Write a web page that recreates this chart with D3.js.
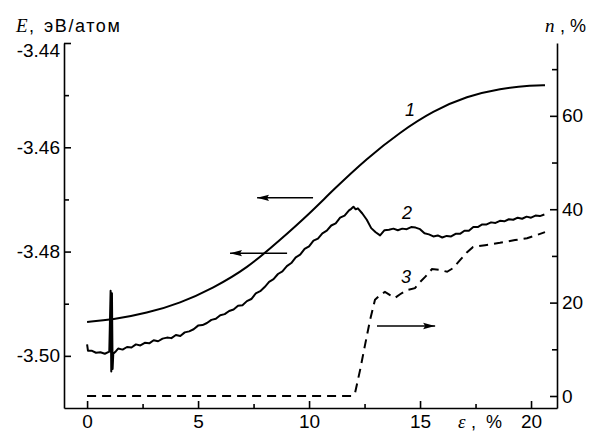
<!DOCTYPE html>
<html>
<head>
<meta charset="utf-8">
<script src="https://cdn.jsdelivr.net/npm/d3@7"></script>
<style>
  body { margin: 0; background: #fff; }
  svg { display: block; }
  .axis text { font-family: "Liberation Sans", Arial, sans-serif; font-size: 19px; fill: #000; }
  .axis path, .axis line { stroke: #000; stroke-width: 1.6; }
</style>
</head>
<body>
<svg id="chart" width="592" height="433"></svg>
<script>
// curve 1: energy (left axis), smooth
var curve1 = [
  [0, -3.4935], [1.13, -3.4931], [2.70, -3.4918], [4.19, -3.4899], [5.68, -3.4870],
  [7.21, -3.4832], [8.69, -3.4778], [10.05, -3.4726], [11.08, -3.4682], [12.61, -3.4621],
  [14.10, -3.4571], [15.59, -3.4530], [17.12, -3.4502], [18.60, -3.4487], [20.09, -3.4481],
  [20.63, -3.4481]
];

// curve 2: energy (left axis), noisy trace with a spike near 1 %
var curve2 = [
  [0.00, -3.4978], [0.04, -3.4990], [0.20, -3.4990], [0.40, -3.4994], [0.60, -3.4993],
  [0.80, -3.4996], [1.00, -3.4992], [1.06, -3.4875], [1.09, -3.5030], [1.12, -3.4880],
  [1.15, -3.5025], [1.18, -3.4996], [1.30, -3.4991], [1.40, -3.4986], [1.60, -3.4988],
  [1.80, -3.4983], [2.00, -3.4984], [2.20, -3.4978], [2.40, -3.4980], [2.60, -3.4975],
  [2.80, -3.4976], [3.00, -3.4970], [3.20, -3.4972], [3.40, -3.4967], [3.60, -3.4965],
  [3.80, -3.4966], [4.00, -3.4960], [4.20, -3.4962], [4.40, -3.4955], [4.60, -3.4953],
  [4.80, -3.4949], [5.00, -3.4942], [5.20, -3.4941], [5.40, -3.4937], [5.60, -3.4931],
  [5.80, -3.4929], [6.00, -3.4922], [6.20, -3.4920], [6.40, -3.4914], [6.60, -3.4911],
  [6.80, -3.4904], [7.00, -3.4903], [7.20, -3.4895], [7.40, -3.4891], [7.60, -3.4880],
  [7.80, -3.4876], [8.00, -3.4868], [8.20, -3.4858], [8.40, -3.4853], [8.60, -3.4843],
  [8.80, -3.4838], [9.00, -3.4828], [9.20, -3.4822], [9.40, -3.4811], [9.60, -3.4806],
  [9.80, -3.4795], [10.00, -3.4790], [10.20, -3.4779], [10.40, -3.4775], [10.60, -3.4765],
  [10.80, -3.4760], [11.00, -3.4750], [11.20, -3.4746], [11.40, -3.4735], [11.60, -3.4731],
  [11.80, -3.4721], [11.90, -3.4718], [12.00, -3.4714], [12.10, -3.4719], [12.20, -3.4717],
  [12.40, -3.4727], [12.60, -3.4739], [12.80, -3.4755], [13.00, -3.4763], [13.20, -3.4769],
  [13.40, -3.4759], [13.60, -3.4758], [13.80, -3.4756], [14.00, -3.4759], [14.20, -3.4756],
  [14.40, -3.4757], [14.60, -3.4753], [14.80, -3.4754], [15.00, -3.4757], [15.20, -3.4765],
  [15.40, -3.4767], [15.60, -3.4771], [15.80, -3.4769], [16.00, -3.4773], [16.20, -3.4770],
  [16.40, -3.4771], [16.60, -3.4766], [16.80, -3.4766], [17.00, -3.4760], [17.20, -3.4760],
  [17.40, -3.4753], [17.60, -3.4753], [17.80, -3.4748], [18.00, -3.4748], [18.20, -3.4744],
  [18.40, -3.4745], [18.60, -3.4741], [18.80, -3.4742], [19.00, -3.4738], [19.20, -3.4739],
  [19.40, -3.4735], [19.60, -3.4737], [19.80, -3.4733], [20.00, -3.4735], [20.20, -3.4731],
  [20.40, -3.4732], [20.60, -3.4729]
];

// curve 3: n, % (right axis), dashed
var curve3 = [
  [0, 0], [11.94, 0], [12.07, 0.6], [12.30, 5.6], [12.52, 10.9], [12.75, 16.3],
  [12.97, 20.6], [13.20, 21.6], [13.42, 22.3], [13.65, 21.6], [13.87, 21.0], [14.10, 21.8],
  [14.41, 22.7], [14.77, 23.1], [15.00, 24.4], [15.23, 25.5], [15.54, 27.2], [15.90, 27.0],
  [16.22, 26.6], [16.49, 27.4], [16.80, 29.1], [17.12, 30.8], [17.39, 31.9], [17.93, 32.3],
  [18.60, 32.8], [19.28, 33.4], [19.82, 33.8], [20.27, 34.5], [20.63, 35.1]
];

var xTicks = [0, 5, 10, 15, 20];
var xMinor = [2.5, 7.5, 12.5, 17.5];
var eTicks = [-3.44, -3.46, -3.48, -3.50];
var eMinor = [-3.45, -3.47, -3.49];
var nTicks = [0, 20, 40, 60];
var nMinor = [10, 30, 50, 70];

// curve labels and arrows, in data units
var curveLabels = [
  { text: '1', eps: 14.55, v: -3.4528, axis: 'E' },
  { text: '2', eps: 14.41, v: -3.4726, axis: 'E' },
  { text: '3', eps: 14.37, v: 25.5, axis: 'n' }
];
var arrows = [
  { from: 10.18, to: 7.66, v: -3.4697, axis: 'E' },
  { from: 9.01, to: 6.44, v: -3.4803, axis: 'E' },
  { from: 13.06, to: 15.68, v: 15.0, axis: 'n' }
];

var svg = d3.select('#chart');
var mLeft = 64, mRight = 557, mTop = 43, mBottom = 408;

var x = d3.scaleLinear().domain([-1.04, 21.17]).range([mLeft, mRight]);
var yE = d3.scaleLinear().domain([-3.51, -3.44]).range([mBottom, mTop]);
var yN = d3.scaleLinear().domain([-2.57, 75.6]).range([mBottom, mTop]);
function yOf(axis) { return axis === 'E' ? yE : yN; }

svg.append('defs').append('marker')
  .attr('id', 'head')
  .attr('viewBox', '0 0 12 8')
  .attr('refX', 12).attr('refY', 4)
  .attr('markerWidth', 12).attr('markerHeight', 8)
  .attr('markerUnits', 'userSpaceOnUse')
  .attr('orient', 'auto')
  .append('path').attr('d', 'M0,0.8L12,4L0,7.2L2,4Z').attr('fill', '#000');

// axes: ticks point inward
var fmtE = function(d) { return d3.format('.2f')(d).replace('−', '-'); };

var gE = svg.append('g').attr('class', 'axis')
  .attr('transform', 'translate(' + mLeft + ',0)')
  .call(d3.axisLeft(yE).tickValues(eTicks).tickFormat(fmtE).tickSizeInner(-7).tickSizeOuter(0).tickPadding(4));
// top label sits a little below its tick, clear of the title
gE.selectAll('.tick text').filter(function(d) { return d === -3.44; }).attr('dy', '0.7em');

svg.append('g').attr('class', 'axis')
  .attr('transform', 'translate(' + mLeft + ',0)')
  .call(d3.axisLeft(yE).tickValues(eMinor).tickFormat('').tickSizeInner(-5).tickSizeOuter(0))
  .select('.domain').remove();

svg.append('g').attr('class', 'axis')
  .attr('transform', 'translate(' + mRight + ',0)')
  .call(d3.axisRight(yN).tickValues(nTicks).tickSizeInner(-7).tickSizeOuter(0).tickPadding(5));
svg.append('g').attr('class', 'axis')
  .attr('transform', 'translate(' + mRight + ',0)')
  .call(d3.axisRight(yN).tickValues(nMinor).tickFormat('').tickSizeInner(-5).tickSizeOuter(0))
  .select('.domain').remove();

svg.append('g').attr('class', 'axis')
  .attr('transform', 'translate(0,' + mBottom + ')')
  .call(d3.axisBottom(x).tickValues(xTicks).tickSizeInner(-7).tickSizeOuter(0).tickPadding(7));
svg.append('g').attr('class', 'axis')
  .attr('transform', 'translate(0,' + mBottom + ')')
  .call(d3.axisBottom(x).tickValues(xMinor).tickFormat('').tickSizeInner(-4).tickSizeOuter(0))
  .select('.domain').remove();

// axis titles
var serif = '"Liberation Serif", "Times New Roman", serif';
var sans = '"Liberation Sans", Arial, sans-serif';

var tE = svg.append('text').attr('y', 32);
tE.append('tspan').attr('x', 16).style('font-family', serif).style('font-style', 'italic').style('font-size', '19px').text('E');
tE.append('tspan').attr('x', 29).style('font-family', sans).style('font-size', '18px').text(',');
tE.append('tspan').attr('x', 44).style('font-family', sans).style('font-size', '18px')
  .style('letter-spacing', '1.6px').text('эВ/атом');

var tN = svg.append('text').attr('y', 32);
tN.append('tspan').attr('x', 545).style('font-family', serif).style('font-style', 'italic').style('font-size', '19px').text('n');
tN.append('tspan').attr('x', 560).style('font-family', sans).style('font-size', '18px').text(',');
tN.append('tspan').attr('x', 570).style('font-family', sans).style('font-size', '18px').text('%');

var tX = svg.append('text').attr('y', 428);
tX.append('tspan').attr('x', 458).style('font-family', serif).style('font-style', 'italic').style('font-size', '19px').text('ε');
tX.append('tspan').attr('x', 471).style('font-family', sans).style('font-size', '18px').text(',');
tX.append('tspan').attr('x', 486).style('font-family', sans).style('font-size', '18px').text('%');

// curves
var lineE = d3.line().x(function(d) { return x(d[0]); }).y(function(d) { return yE(d[1]); });
var lineN = d3.line().x(function(d) { return x(d[0]); }).y(function(d) { return yN(d[1]); });

svg.append('path')
  .attr('d', d3.line().x(function(d) { return x(d[0]); }).y(function(d) { return yE(d[1]); }).curve(d3.curveBasis)(curve1))
  .attr('fill', 'none').attr('stroke', '#000').attr('stroke-width', 2);

svg.append('path')
  .attr('d', lineE(curve2))
  .attr('fill', 'none').attr('stroke', '#000').attr('stroke-width', 2).attr('stroke-linejoin', 'round');

svg.append('path')
  .attr('d', lineN(curve3))
  .attr('fill', 'none').attr('stroke', '#000').attr('stroke-width', 2)
  .attr('stroke-dasharray', '9,6');

// curve labels
svg.selectAll('.clabel').data(curveLabels).enter().append('text')
  .attr('class', 'clabel')
  .attr('x', function(d) { return x(d.eps); })
  .attr('y', function(d) { return yOf(d.axis)(d.v); })
  .attr('text-anchor', 'middle').attr('dy', '0.35em')
  .style('font-family', sans).style('font-style', 'italic').style('font-size', '18px')
  .text(function(d) { return d.text; });

// arrows
svg.selectAll('.arrow').data(arrows).enter().append('line')
  .attr('class', 'arrow')
  .attr('x1', function(d) { return x(d.from); })
  .attr('x2', function(d) { return x(d.to); })
  .attr('y1', function(d) { return yOf(d.axis)(d.v); })
  .attr('y2', function(d) { return yOf(d.axis)(d.v); })
  .attr('stroke', '#000').attr('stroke-width', 1.5)
  .attr('marker-end', 'url(#head)');
</script>
</body>
</html>
